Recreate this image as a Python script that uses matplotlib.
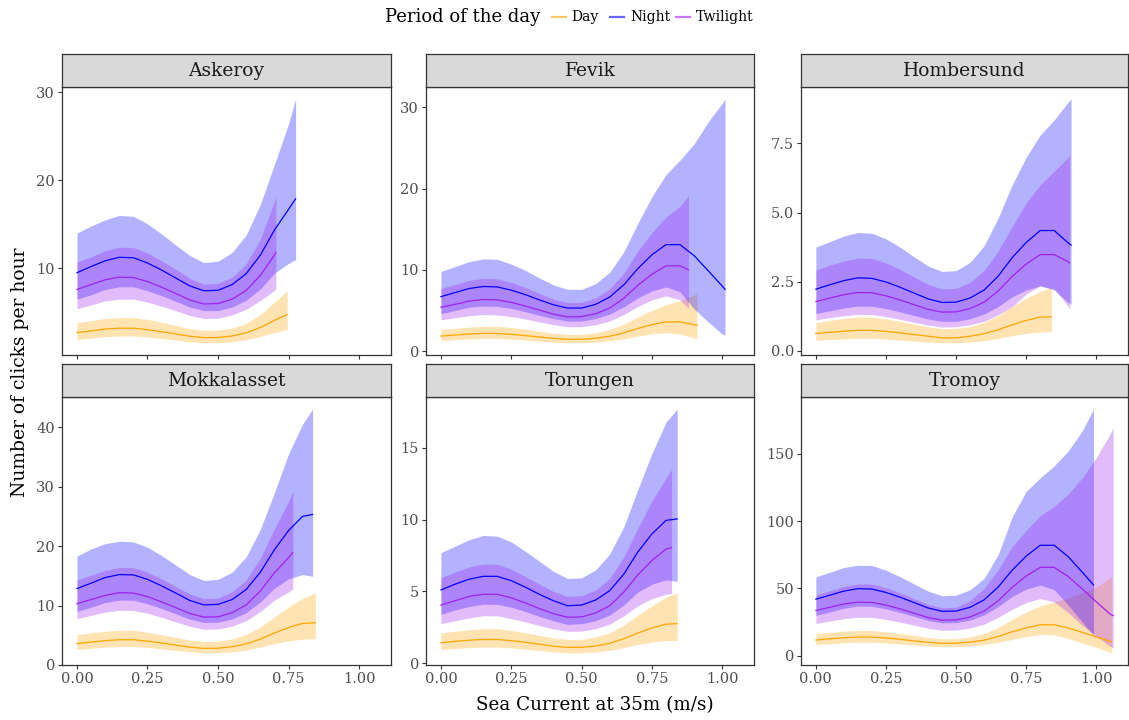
import matplotlib.pyplot as plt
from matplotlib.lines import Line2D

# shared x grid (sea current, m/s); each series uses the first points of it
# and then its own last x value
GRID = [0.00, 0.05, 0.10, 0.15, 0.20, 0.25, 0.30, 0.35, 0.40, 0.45, 0.50,
        0.55, 0.60, 0.65, 0.70, 0.75, 0.80, 0.85, 0.90, 0.95, 1.00, 1.05]

sites = ['Askeroy', 'Fevik', 'Hombersund', 'Mokkalasset', 'Torungen', 'Tromoy']
periods = ['Day', 'Night', 'Twilight']
period_colors = {'Day': 'orange', 'Night': 'blue', 'Twilight': '#A020F0'}

# ---- Askeroy
askeroy_day_end = 0.745
askeroy_day_fit = [2.7, 2.9, 3.1, 3.2, 3.2, 3.03, 2.8, 2.55, 2.29, 2.13, 2.14, 2.32, 2.67, 3.28, 4.09, 4.75]
askeroy_day_lo = [1.9, 2.07, 2.24, 2.32, 2.32, 2.2, 2.03, 1.85, 1.66, 1.54, 1.55, 1.67, 1.9, 2.26, 2.73, 3.05]
askeroy_day_hi = [3.85, 4.05, 4.3, 4.4, 4.4, 4.2, 3.87, 3.52, 3.16, 2.95, 2.97, 3.22, 3.75, 4.75, 6.15, 7.45]
askeroy_night_end = 0.775
askeroy_night_fit = [9.5, 10.2, 10.85, 11.25, 11.2, 10.6, 9.8, 8.9, 8.0, 7.45, 7.5, 8.15, 9.4, 11.5, 14.35, 16.7, 17.9]
askeroy_night_lo = [6.5, 7.0, 7.6, 7.9, 7.9, 7.45, 6.9, 6.25, 5.6, 5.2, 5.2, 5.6, 6.4, 7.65, 9.45, 10.55, 11.0]
askeroy_night_hi = [14.0, 14.8, 15.5, 16.0, 15.9, 15.05, 13.9, 12.65, 11.45, 10.65, 10.8, 11.8, 13.8, 17.25, 21.8, 26.4, 29.2]
askeroy_twi_end = 0.705
askeroy_twi_fit = [7.6, 8.15, 8.7, 9.0, 8.95, 8.5, 7.85, 7.15, 6.4, 5.95, 6.0, 6.5, 7.5, 9.2, 11.5, 11.8]
askeroy_twi_lo = [5.4, 5.85, 6.3, 6.5, 6.5, 6.15, 5.7, 5.2, 4.65, 4.3, 4.35, 4.7, 5.35, 6.35, 7.5, 7.7]
askeroy_twi_hi = [10.7, 11.3, 12.0, 12.4, 12.35, 11.75, 10.85, 9.9, 8.85, 8.2, 8.3, 9.0, 10.5, 13.3, 17.6, 18.2]

# ---- Fevik
fevik_day_end = 0.91
fevik_day_fit = [1.85, 1.98, 2.1, 2.18, 2.17, 2.06, 1.91, 1.74, 1.56, 1.45, 1.46, 1.58, 1.83, 2.24, 2.79, 3.26, 3.6, 3.6, 3.25, 3.2]
fevik_day_lo = [1.3, 1.4, 1.5, 1.55, 1.55, 1.47, 1.36, 1.24, 1.1, 1.02, 1.03, 1.11, 1.27, 1.52, 1.86, 2.12, 2.27, 2.1, 1.6, 1.5]
fevik_day_hi = [2.65, 2.8, 2.95, 3.05, 3.05, 2.9, 2.7, 2.45, 2.2, 2.05, 2.07, 2.25, 2.65, 3.3, 4.2, 5.0, 5.7, 6.2, 6.9, 7.1]
fevik_night_end = 1.01
fevik_night_fit = [6.7, 7.2, 7.7, 7.95, 7.9, 7.5, 6.95, 6.3, 5.7, 5.3, 5.3, 5.75, 6.65, 8.15, 10.15, 11.85, 13.1, 13.1, 11.75, 9.9, 8.0, 7.6]
fevik_night_lo = [4.6, 5.0, 5.4, 5.55, 5.5, 5.25, 4.85, 4.4, 4.0, 3.7, 3.7, 4.0, 4.55, 5.45, 6.55, 7.4, 7.9, 7.3, 5.2, 3.6, 2.1, 2.0]
fevik_night_hi = [9.8, 10.4, 11.0, 11.35, 11.3, 10.7, 9.95, 9.0, 8.15, 7.6, 7.6, 8.3, 9.7, 12.2, 15.7, 19.0, 21.7, 23.5, 25.5, 28.2, 30.5, 31.0]
fevik_twi_end = 0.88
fevik_twi_fit = [5.4, 5.75, 6.15, 6.35, 6.3, 6.0, 5.55, 5.05, 4.55, 4.2, 4.25, 4.6, 5.3, 6.5, 8.1, 9.45, 10.5, 10.5, 10.0]
fevik_twi_lo = [3.85, 4.1, 4.35, 4.5, 4.45, 4.25, 3.95, 3.6, 3.25, 3.0, 3.0, 3.25, 3.7, 4.5, 5.5, 6.3, 6.8, 6.3, 5.3]
fevik_twi_hi = [7.7, 8.2, 8.7, 8.95, 8.9, 8.45, 7.85, 7.1, 6.4, 5.95, 6.0, 6.55, 7.65, 9.6, 12.3, 14.6, 16.5, 17.8, 19.1]

# ---- Hombersund
homb_day_end = 0.84
homb_day_fit = [0.63, 0.67, 0.71, 0.74, 0.74, 0.7, 0.65, 0.59, 0.53, 0.47, 0.47, 0.53, 0.62, 0.76, 0.94, 1.1, 1.22, 1.23]
homb_day_lo = [0.38, 0.41, 0.43, 0.45, 0.45, 0.42, 0.39, 0.35, 0.31, 0.29, 0.29, 0.32, 0.37, 0.45, 0.55, 0.63, 0.68, 0.69]
homb_day_hi = [1.02, 1.1, 1.17, 1.22, 1.22, 1.15, 1.07, 0.97, 0.87, 0.8, 0.81, 0.88, 1.03, 1.27, 1.6, 1.9, 2.15, 2.3]
homb_night_end = 0.91
homb_night_fit = [2.23, 2.39, 2.54, 2.64, 2.62, 2.49, 2.3, 2.09, 1.88, 1.75, 1.76, 1.91, 2.2, 2.7, 3.37, 3.92, 4.35, 4.35, 3.9, 3.82]
homb_night_lo = [1.35, 1.45, 1.55, 1.62, 1.61, 1.53, 1.41, 1.28, 1.15, 1.07, 1.07, 1.16, 1.33, 1.6, 1.95, 2.2, 2.35, 2.2, 1.75, 1.68]
homb_night_hi = [3.75, 3.95, 4.15, 4.28, 4.25, 4.05, 3.75, 3.4, 3.07, 2.87, 2.9, 3.2, 3.8, 4.8, 6.0, 7.0, 7.8, 8.35, 9.0, 9.1]
homb_twi_end = 0.905
homb_twi_fit = [1.78, 1.91, 2.03, 2.11, 2.1, 1.99, 1.84, 1.67, 1.5, 1.4, 1.41, 1.53, 1.76, 2.16, 2.69, 3.14, 3.48, 3.48, 3.22, 3.18]
homb_twi_lo = [1.12, 1.2, 1.27, 1.32, 1.31, 1.24, 1.14, 1.03, 0.93, 0.86, 0.87, 0.94, 1.07, 1.3, 1.6, 2.05, 2.35, 2.25, 1.6, 1.5]
homb_twi_hi = [2.92, 3.1, 3.25, 3.35, 3.34, 3.18, 2.95, 2.67, 2.4, 2.24, 2.26, 2.48, 2.9, 3.6, 4.5, 5.35, 6.0, 6.5, 7.0, 7.08]

# ---- Mokkalasset
mokk_day_end = 0.845
mokk_day_fit = [3.6, 3.85, 4.1, 4.25, 4.25, 4.0, 3.7, 3.35, 3.0, 2.8, 2.82, 3.08, 3.55, 4.35, 5.4, 6.3, 7.0, 7.1]
mokk_day_lo = [2.6, 2.8, 3.0, 3.1, 3.1, 2.95, 2.7, 2.45, 2.2, 2.05, 2.05, 2.2, 2.5, 3.0, 3.6, 4.05, 4.35, 4.4]
mokk_day_hi = [5.1, 5.4, 5.65, 5.85, 5.85, 5.5, 5.1, 4.65, 4.2, 3.95, 4.0, 4.4, 5.15, 6.4, 8.1, 9.75, 11.2, 12.1]
mokk_night_end = 0.835
mokk_night_fit = [12.85, 13.75, 14.7, 15.2, 15.15, 14.4, 13.3, 12.1, 10.85, 10.1, 10.2, 11.0, 12.7, 15.6, 19.4, 22.6, 25.0, 25.3]
mokk_night_lo = [9.0, 9.7, 10.5, 10.9, 10.9, 10.3, 9.5, 8.6, 7.7, 7.15, 7.2, 7.75, 8.8, 10.6, 12.9, 14.5, 15.2, 14.9]
mokk_night_hi = [18.3, 19.5, 20.4, 20.8, 20.7, 19.8, 18.4, 16.8, 15.2, 14.2, 14.4, 15.6, 18.2, 22.8, 29.0, 35.5, 40.5, 43.0]
mokk_twi_end = 0.765
mokk_twi_fit = [10.3, 11.0, 11.7, 12.15, 12.1, 11.5, 10.6, 9.65, 8.65, 8.05, 8.1, 8.8, 10.1, 12.45, 15.5, 18.05, 18.9]
mokk_twi_lo = [7.8, 8.35, 8.9, 9.2, 9.15, 8.7, 8.0, 7.25, 6.5, 6.0, 6.05, 6.55, 7.45, 9.0, 10.9, 12.3, 12.8]
mokk_twi_hi = [14.3, 15.1, 15.9, 16.4, 16.35, 15.6, 14.5, 13.2, 11.95, 11.15, 11.25, 12.3, 14.3, 18.0, 22.9, 27.5, 29.2]

# ---- Torungen
tor_day_end = 0.84
tor_day_fit = [1.42, 1.52, 1.6, 1.65, 1.65, 1.57, 1.45, 1.32, 1.18, 1.1, 1.1, 1.2, 1.38, 1.7, 2.1, 2.45, 2.72, 2.75]
tor_day_lo = [0.95, 1.02, 1.08, 1.12, 1.12, 1.06, 0.98, 0.88, 0.79, 0.72, 0.72, 0.78, 0.89, 1.08, 1.3, 1.47, 1.57, 1.58]
tor_day_hi = [2.1, 2.22, 2.33, 2.4, 2.4, 2.28, 2.12, 1.93, 1.75, 1.65, 1.66, 1.82, 2.12, 2.65, 3.35, 4.0, 4.6, 4.9]
tor_night_end = 0.84
tor_night_fit = [5.1, 5.5, 5.85, 6.05, 6.05, 5.75, 5.3, 4.8, 4.35, 4.0, 4.05, 4.4, 5.05, 6.2, 7.75, 9.0, 9.95, 10.05]
tor_night_lo = [3.4, 3.7, 3.95, 4.1, 4.1, 3.9, 3.6, 3.25, 2.95, 2.7, 2.75, 2.95, 3.35, 4.05, 4.95, 5.5, 5.8, 5.7]
tor_night_hi = [7.7, 8.15, 8.6, 8.9, 8.85, 8.45, 7.8, 7.1, 6.4, 5.9, 5.95, 6.5, 7.6, 9.5, 12.1, 14.6, 16.8, 17.7]
tor_twi_end = 0.82
tor_twi_fit = [4.05, 4.35, 4.65, 4.8, 4.8, 4.55, 4.2, 3.8, 3.45, 3.2, 3.22, 3.5, 4.0, 4.95, 6.15, 7.15, 7.95, 8.05]
tor_twi_lo = [2.75, 2.95, 3.15, 3.3, 3.3, 3.1, 2.88, 2.62, 2.38, 2.22, 2.23, 2.4, 2.72, 3.3, 4.0, 4.5, 4.8, 4.85]
tor_twi_hi = [5.95, 6.35, 6.7, 6.9, 6.9, 6.55, 6.05, 5.5, 5.0, 4.65, 4.7, 5.1, 5.9, 7.4, 9.4, 11.3, 12.9, 13.5]

# ---- Tromoy
trom_day_end = 1.055
trom_day_fit = [11.7, 12.6, 13.4, 13.9, 13.9, 13.2, 12.2, 11.1, 9.95, 9.25, 9.3, 10.1, 11.6, 14.3, 17.8, 20.7, 23.0, 23.0, 20.6, 17.4, 14.0, 10.6, 10.4]
trom_day_lo = [8.3, 9.0, 9.6, 10.0, 10.0, 9.5, 8.8, 8.0, 7.2, 6.7, 6.7, 7.3, 8.3, 10.0, 12.2, 14.2, 15.8, 15.6, 13.0, 9.5, 6.3, 2.4, 2.2]
trom_day_hi = [16.3, 17.4, 18.3, 18.8, 18.7, 17.8, 16.6, 15.1, 13.6, 12.6, 12.7, 14.0, 16.5, 21.0, 27.0, 32.5, 37.0, 40.0, 43.0, 47.0, 51.0, 58.0, 58.6]
trom_night_end = 0.99
trom_night_fit = [42, 45, 48, 49.8, 49.5, 47, 43.5, 39.5, 35.5, 33, 33.2, 36, 41.5, 51, 63.5, 74, 82, 82, 73.5, 62, 52.5]
trom_night_lo = [30, 32.5, 35.3, 36.9, 36.7, 34.8, 32.2, 29.3, 26.3, 24.4, 24.6, 26.5, 30.3, 36.5, 44, 49.5, 52.5, 49, 37.5, 25, 15.5]
trom_night_hi = [58.5, 62, 65.5, 67.2, 67, 63.5, 58.7, 53.3, 48, 44.6, 45, 49, 57.5, 75, 103, 122, 132, 141, 152, 167, 183]
trom_twi_end = 1.06
trom_twi_fit = [33.6, 36, 38.4, 39.8, 39.6, 37.6, 34.8, 31.6, 28.4, 26.4, 26.6, 28.8, 33.2, 40.8, 50.8, 59.2, 65.6, 65.6, 58.8, 49.6, 40, 30.8, 29.8]
trom_twi_lo = [24, 25.8, 27.6, 28.6, 28.5, 27, 25, 22.7, 20.4, 19, 19.1, 20.6, 23.5, 28.5, 34.5, 39.5, 42.5, 40, 32, 22.5, 14.5, 7, 5.8]
trom_twi_hi = [45, 48.3, 51.5, 53.4, 53.2, 50.5, 46.8, 42.5, 38.2, 35.6, 36, 41, 50, 64, 81, 93, 104, 111, 120, 132, 147, 165, 169]

y_ticks = {
    'Askeroy': [10, 20, 30],
    'Fevik': [0, 10, 20, 30],
    'Hombersund': [0.0, 2.5, 5.0, 7.5],
    'Mokkalasset': [0, 10, 20, 30, 40],
    'Torungen': [0, 5, 10, 15],
    'Tromoy': [0, 50, 100, 150],
}
x_ticks = [0.00, 0.25, 0.50, 0.75, 1.00]

series = {
    'Askeroy': {
        'Day': (askeroy_day_end, askeroy_day_fit, askeroy_day_lo, askeroy_day_hi),
        'Night': (askeroy_night_end, askeroy_night_fit, askeroy_night_lo, askeroy_night_hi),
        'Twilight': (askeroy_twi_end, askeroy_twi_fit, askeroy_twi_lo, askeroy_twi_hi)},
    'Fevik': {
        'Day': (fevik_day_end, fevik_day_fit, fevik_day_lo, fevik_day_hi),
        'Night': (fevik_night_end, fevik_night_fit, fevik_night_lo, fevik_night_hi),
        'Twilight': (fevik_twi_end, fevik_twi_fit, fevik_twi_lo, fevik_twi_hi)},
    'Hombersund': {
        'Day': (homb_day_end, homb_day_fit, homb_day_lo, homb_day_hi),
        'Night': (homb_night_end, homb_night_fit, homb_night_lo, homb_night_hi),
        'Twilight': (homb_twi_end, homb_twi_fit, homb_twi_lo, homb_twi_hi)},
    'Mokkalasset': {
        'Day': (mokk_day_end, mokk_day_fit, mokk_day_lo, mokk_day_hi),
        'Night': (mokk_night_end, mokk_night_fit, mokk_night_lo, mokk_night_hi),
        'Twilight': (mokk_twi_end, mokk_twi_fit, mokk_twi_lo, mokk_twi_hi)},
    'Torungen': {
        'Day': (tor_day_end, tor_day_fit, tor_day_lo, tor_day_hi),
        'Night': (tor_night_end, tor_night_fit, tor_night_lo, tor_night_hi),
        'Twilight': (tor_twi_end, tor_twi_fit, tor_twi_lo, tor_twi_hi)},
    'Tromoy': {
        'Day': (trom_day_end, trom_day_fit, trom_day_lo, trom_day_hi),
        'Night': (trom_night_end, trom_night_fit, trom_night_lo, trom_night_hi),
        'Twilight': (trom_twi_end, trom_twi_fit, trom_twi_lo, trom_twi_hi)},
}

plt.rcParams['font.family'] = ['DejaVu Serif']
W, H = 1129, 720
fig = plt.figure(figsize=(W / 100, H / 100), dpi=100)

# panel boxes in pixels (left, right), rows (top, bottom)
cols_px = [(62, 391), (426, 754), (801, 1128)]
rows_px = [(87, 355), (397, 665)]
strip_h = 33
frame_col = '#333333'
tick_col = '#4D4D4D'

x_all_max = max(max(p[0] for p in s.values()) for s in series.values())
xpad = 0.05 * x_all_max

for i, site in enumerate(sites):
    r, c = divmod(i, 3)
    x0, x1 = cols_px[c]
    top, bot = rows_px[r]
    ax = fig.add_axes([x0 / W, 1 - bot / H, (x1 - x0) / W, (bot - top) / H])

    ymin, ymax = 1e9, -1e9
    for per in periods:
        end, fit, lo, hi = series[site][per]
        xs = GRID[:len(fit) - 1] + [end]
        ax.fill_between(xs, lo, hi, color=period_colors[per], alpha=0.3, lw=0)
        ymin = min(ymin, min(lo))
        ymax = max(ymax, max(hi))
    for per in periods:
        end, fit, lo, hi = series[site][per]
        xs = GRID[:len(fit) - 1] + [end]
        ax.plot(xs, fit, color=period_colors[per], lw=0.9)

    ypad = 0.05 * (ymax - ymin)
    ax.set_ylim(ymin - ypad, ymax + ypad)
    ax.set_xlim(-xpad, x_all_max + xpad)
    ax.set_yticks(y_ticks[site])
    if site == 'Hombersund':
        ax.set_yticklabels(['%.1f' % v for v in y_ticks[site]])
    ax.set_xticks(x_ticks)
    if r == 1:
        ax.set_xticklabels(['%.2f' % v for v in x_ticks])
    else:
        ax.tick_params(axis='x', length=0, labelbottom=False)
    ax.tick_params(colors=frame_col, labelcolor=tick_col, labelsize=10.5,
                   length=3, width=0.8, pad=2)
    for sp in ax.spines.values():
        sp.set_color(frame_col)
        sp.set_linewidth(0.9)

    # facet strip
    sax = fig.add_axes([x0 / W, 1 - top / H, (x1 - x0) / W, strip_h / H])
    sax.set_facecolor('#D9D9D9')
    sax.set_xticks([])
    sax.set_yticks([])
    for sp in sax.spines.values():
        sp.set_color(frame_col)
        sp.set_linewidth(0.9)
    sax.text(0.5, 0.47, site, ha='center', va='center', fontsize=13.5,
             color='#1A1A1A', transform=sax.transAxes)

fig.text(595 / W, 1 - 705 / H, 'Sea Current at 35m (m/s)', ha='center',
         va='center', fontsize=13.2, color='black')
fig.text(20 / W, 1 - 372 / H, 'Number of clicks per hour', ha='center',
         va='center', rotation=90, fontsize=13.5, color='black')

# legend across the top, placed by hand
ly = 1 - 17 / H
fig.text(540 / W, ly, 'Period of the day', ha='right', va='center',
         fontsize=13, color='black')
key_x = {'Day': (552, 566, 571), 'Night': (610, 624, 630), 'Twilight': (676, 690, 696)}
for p in periods:
    a, b, t = key_x[p]
    fig.add_artist(Line2D([a / W, b / W], [ly, ly], transform=fig.transFigure,
                          color=period_colors[p], lw=1.6, alpha=0.6))
    fig.text(t / W, ly, p, ha='left', va='center', fontsize=10, color='black')

fig.savefig('out.png', dpi=100)
